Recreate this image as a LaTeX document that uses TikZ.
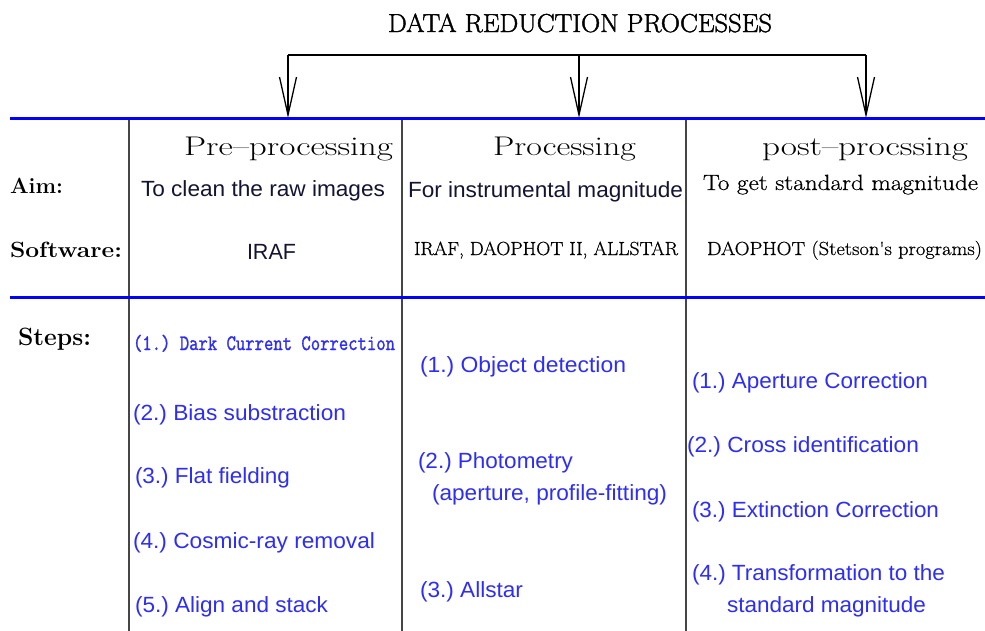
\documentclass[tikz,border=0pt]{standalone}
\usepackage{fontspec}
\setmainfont{Latin Modern Roman}
\setmonofont{Latin Modern Mono}
\newfontfamily\arial{Liberation Sans}
\newfontfamily\hers[FakeBold=0.6]{Latin Modern Roman}
\newfontfamily\herstitle[FakeBold=1.6]{Latin Modern Roman}
\newfontfamily\herstt[FakeBold=1.4]{Latin Modern Mono}
\usetikzlibrary{arrows.meta}
\definecolor{lineblue}{RGB}{0,0,255}
\definecolor{itemblue}{RGB}{45,45,245}
\definecolor{aimtext}{RGB}{20,20,50}
\definecolor{rulegray}{RGB}{70,70,70}
\newcommand\fw[2]{\resizebox{#1pt}{\height}{#2}}
\newcommand\fs[1]{\fontsize{#1}{#1}\selectfont\frenchspacing}
\begin{document}
\begin{tikzpicture}[x=1pt,y=-1pt,
  txt/.style={inner sep=0pt,outer sep=0pt,anchor=base west},
  ctxt/.style={inner sep=0pt,outer sep=0pt,anchor=base},
  head/.style={txt,font=\fs{27}},
  lbl/.style={txt,font=\bfseries\fs{22}},
  aim/.style={txt,font=\arial\fs{22},text=aimtext},
  soft/.style={txt,font=\hers\fs{19}},
  item/.style={txt,font=\arial\fs{22},text=itemblue},
  blueline/.style={draw=lineblue,line width=3pt},
  colrule/.style={draw=rulegray,line width=1.6pt},
  bracket/.style={draw=black,line width=1.3pt},
  openv/.style={-{Straight Barb[length=38pt,width=17pt,line width=1.3pt]}}
]
\useasboundingbox (0,0) rectangle (985,630);

% title
\node[ctxt,font=\herstitle\fs{26}] (title) at (580,32) {\fw{384}{DATA REDUCTION PROCESSES}};

% bracket with arrows
\coordinate (bl) at (288,55);
\coordinate (bm) at (579,55);
\coordinate (br) at (866,55);
\coordinate (a1) at (288,118);
\coordinate (a2) at (579,118);
\coordinate (a3) at (866,118);
\draw[bracket] (bl) -- (br);
\draw[bracket,openv] (bl) -- (a1);
\draw[bracket,openv] (bm) -- (a2);
\draw[bracket,openv] (br) -- (a3);

% horizontal blue rules
\coordinate (h1l) at (10,118);
\coordinate (h1r) at (985,118);
\coordinate (h2l) at (10,297);
\coordinate (h2r) at (985,297);
% vertical rules
\coordinate (v1t) at (129,118);
\coordinate (v1b) at (129,632);
\coordinate (v2t) at (402,118);
\coordinate (v2b) at (402,632);
\coordinate (v3t) at (686,118);
\coordinate (v3b) at (686,632);
\draw[colrule] (v1t) -- (v1b);
\draw[colrule] (v2t) -- (v2b);
\draw[colrule] (v3t) -- (v3b);
\draw[blueline] (h1l) -- (h1r);
\draw[blueline] (h2l) -- (h2r);

% column heads
\node[head] (pre) at (184,155) {\fw{209}{Pre–processing}};
\node[head] (proc) at (493,155) {\fw{143}{Processing}};
\node[head] (post) at (762,155) {\fw{206}{post–procssing}};

% row labels
\node[lbl] (aimlbl) at (10,193) {\fw{53}{Aim:}};
\node[lbl] (softlbl) at (10,257) {\fw{112}{Software:}};
\node[lbl,font=\bfseries\fs{25}] (steplbl) at (18,345) {\fw{73}{Steps:}};

% aims
\node[aim] (aim1) at (141,196) {\fw{244}{To clean the raw images}};
\node[aim] (aim2) at (408,197) {\fw{275}{For instrumental magnitude}};
\node[soft,font=\hers\fs{22}] (aim3) at (703,190) {\fw{275}{To get standard magnitude}};

% software
\node[aim] (sw1) at (247,259) {\fw{49}{IRAF}};
\node[soft] (sw2) at (414,255) {\fw{264}{IRAF, DAOPHOT II, ALLSTAR}};
\node[soft] (sw3) at (707,255) {\fw{275}{DAOPHOT (Stetson\textquotesingle s programs)}};

% steps column 1
\node[txt,font=\herstt\fs{22},text=itemblue] (p1) at (133,350) {\fw{262}{(1.) Dark Current Correction}};
\node[item] (p2) at (133,420) {\fw{213}{(2.) Bias substraction}};
\node[item] (p3) at (135,483) {\fw{155}{(3.) Flat fielding}};
\node[item] (p4) at (133,548) {\fw{242}{(4.) Cosmic-ray removal}};
\node[item] (p5) at (135,612) {\fw{193}{(5.) Align and stack}};

% steps column 2
\node[item] (q1) at (420,372) {\fw{206}{(1.) Object detection}};
\node[item] (q2) at (418,468) {\fw{155}{(2.) Photometry}};
\node[item] (q2b) at (432,500) {\fw{235}{(aperture, profile-fitting)}};
\node[item] (q3) at (420,597) {\fw{103}{(3.) Allstar}};

% steps column 3
\node[item] (r1) at (692,388) {\fw{236}{(1.) Aperture Correction}};
\node[item] (r2) at (687,452) {\fw{232}{(2.) Cross identification}};
\node[item] (r3) at (692,517) {\fw{247}{(3.) Extinction Correction}};
\node[item] (r4) at (692,580) {\fw{253}{(4.) Transformation to the}};
\node[item] (r4b) at (727,612) {\fw{199}{standard magnitude}};
\end{tikzpicture}
\end{document}
